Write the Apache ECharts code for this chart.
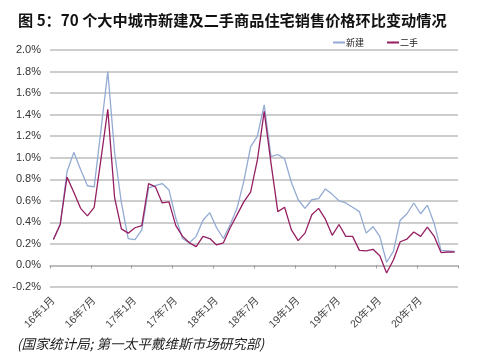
<!DOCTYPE html>
<html><head><meta charset="utf-8">
<script src="https://cdn.jsdelivr.net/npm/echarts@6/dist/echarts.min.js"></script>
<style>html,body{margin:0;padding:0;background:#fff;}#c{width:500px;height:356px;}</style>
</head><body><div id="c"></div>
<script>
var titleText = '图 5：70 个大中城市新建及二手商品住宅销售价格环比变动情况';
var sourceText = '(国家统计局; 第一太平戴维斯市场研究部)';
var seriesNames = ['新建', '二手'];
var years = ['16', '17', '18', '19', '20'];
var categories = [];
years.forEach(function (y) { for (var m = 1; m <= 12; m++) categories.push(y + '年' + m + '月'); });
var newHome = [0.24, 0.38, 0.87, 1.05, 0.89, 0.74, 0.73, 1.26, 1.80, 1.05, 0.58, 0.25,
  0.24, 0.33, 0.72, 0.74, 0.76, 0.70, 0.44, 0.25, 0.21, 0.27, 0.42, 0.49,
  0.35, 0.25, 0.38, 0.53, 0.78, 1.10, 1.20, 1.49, 1.01, 1.03, 0.99, 0.77,
  0.61, 0.53, 0.61, 0.62, 0.71, 0.66, 0.60, 0.58, 0.54, 0.50, 0.30, 0.36,
  0.27, 0.03, 0.13, 0.42, 0.48, 0.58, 0.48, 0.56, 0.39, 0.14, 0.135, 0.13];
var secondHand = [0.24, 0.38, 0.82, 0.68, 0.53, 0.46, 0.54, 0.99, 1.45, 0.63, 0.34, 0.30,
  0.35, 0.37, 0.76, 0.73, 0.58, 0.59, 0.37, 0.27, 0.21, 0.175, 0.27, 0.25,
  0.19, 0.21, 0.35, 0.47, 0.59, 0.68, 0.98, 1.43, 0.95, 0.50, 0.54, 0.33,
  0.23, 0.30, 0.47, 0.53, 0.43, 0.28, 0.38, 0.27, 0.27, 0.14, 0.135, 0.15,
  0.09, -0.07, 0.05, 0.22, 0.245, 0.31, 0.27, 0.355, 0.27, 0.12, 0.125, 0.125];
var yMin = -0.2, yMax = 2.0, yStep = 0.2;

var chart = echarts.init(document.getElementById('c'), null, {renderer: 'canvas'});
chart.setOption({
  animation: false,
  backgroundColor: '#ffffff',
  title: [{
    text: titleText, left: 13, top: 8,
    textStyle: {fontFamily: '"Noto Sans CJK SC", sans-serif', fontSize: 15.2, fontWeight: 'bold', color: '#111'}
  }, {
    text: sourceText, left: 12, top: 332,
    textStyle: {fontFamily: '"Noto Sans CJK SC", sans-serif', fontSize: 13.6, fontWeight: 'normal', fontStyle: 'italic', color: '#222'}
  }],
  legend: {
    left: 327, top: 33, itemWidth: 12, itemHeight: 2, itemGap: 22,
    textStyle: {fontFamily: '"Noto Sans CJK SC", sans-serif', fontSize: 9, color: '#222', padding: [0, 0, 0, -4]},
    data: seriesNames
  },
  grid: {left: 50, right: 42, top: 50, bottom: 69, containLabel: false},
  xAxis: {
    type: 'category', data: categories, boundaryGap: true,
    axisLine: {onZero: true, lineStyle: {color: '#b8b8b8', width: 1.5}},
    axisTick: {show: true, interval: 5, length: 3, inside: false, lineStyle: {color: '#9a9a9a'}},
    axisLabel: {interval: 5, rotate: 45, margin: 12, fontSize: 10.5, color: '#444', fontFamily: 'Arial, "Noto Sans CJK SC", sans-serif'},
    splitLine: {show: false}
  },
  yAxis: {
    type: 'value', min: yMin, max: yMax, interval: yStep,
    axisLine: {show: false}, axisTick: {show: false},
    axisLabel: {formatter: function (v) { return v.toFixed(1) + '%'; }, fontSize: 11, color: '#333', margin: 9, fontFamily: 'Arial, sans-serif'},
    splitLine: {lineStyle: {color: '#bdbdbd', width: 1.5}}
  },
  series: [{
    name: seriesNames[0], type: 'line', data: newHome, symbol: 'none',
    lineStyle: {color: '#93aad3', width: 1.3}, itemStyle: {color: '#93aad3'}
  }, {
    name: seriesNames[1], type: 'line', data: secondHand, symbol: 'none',
    lineStyle: {color: '#951f61', width: 1.3}, itemStyle: {color: '#951f61'}
  }]
});
</script></body></html>
